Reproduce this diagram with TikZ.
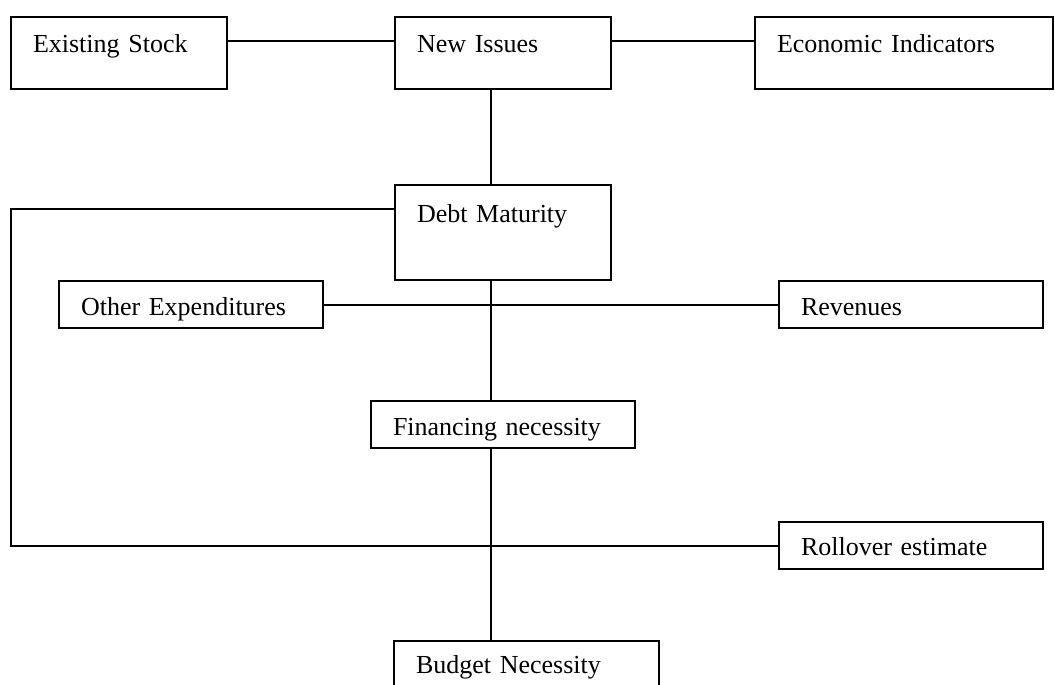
\documentclass[tikz,border=0pt]{standalone}
\usepackage{fontspec}
\setmainfont{Liberation Serif}
\usepackage{tikz}

\begin{document}
\begin{tikzpicture}[
  x=0.5pt,y=-0.5pt,
  box/.style={rectangle,draw,line width=1pt,anchor=north west,
    align=left,inner xsep=11pt,inner ysep=0pt,outer sep=0pt,
    font=\fontsize{13}{15}\selectfont},
  tall/.style={box,text width=86pt,text height=18pt,text depth=18pt},
  flat/.style={box,text width=110pt,text height=17pt,text depth=6.5pt},
  link/.style={line width=1pt}]

  \useasboundingbox (0,0) rectangle (1055,685);

  \node[tall] (stock) at (11,17) {Existing Stock};
  \node[tall] (issues) at (395,17) {New Issues};
  \node[tall,text width=127pt] (econ) at (755,17) {Economic Indicators};

  \node[box,text width=86pt,text height=18.5pt,text depth=29pt] (debt) at (395,185) {Debt Maturity};

  \node[flat] (other) at (59,281) {Other Expenditures};
  \node[flat] (rev) at (779,281) {Revenues};
  \node[flat] (fin) at (371,401) {Financing necessity};
  \node[flat,text height=16.5pt,text depth=7pt] (roll) at (779,522) {Rollover estimate};
  \node[flat,text width=110.5pt,text height=16pt,text depth=14pt] (budget) at (394,641) {Budget Necessity};

  \draw[link] ([yshift=6pt]stock.east) -- ([yshift=6pt]issues.west);
  \draw[link] ([yshift=6pt]issues.east) -- ([yshift=6pt]econ.west);
  \draw[link] ([xshift=-6pt]issues.south) -- ([xshift=-6pt]debt.north);
  \draw[link] ([xshift=-6pt]debt.south) -- ([xshift=-6pt]fin.north);
  \draw[link] ([xshift=-6pt]fin.south) -- ([xshift=-6pt]fin.south |- budget.north);
  \draw[link] (other.east) -- (rev.west);
  \draw[link] ([yshift=11.75pt]debt.west) -| (stock.west |- roll.west) -- (roll.west);
\end{tikzpicture}
\end{document}
